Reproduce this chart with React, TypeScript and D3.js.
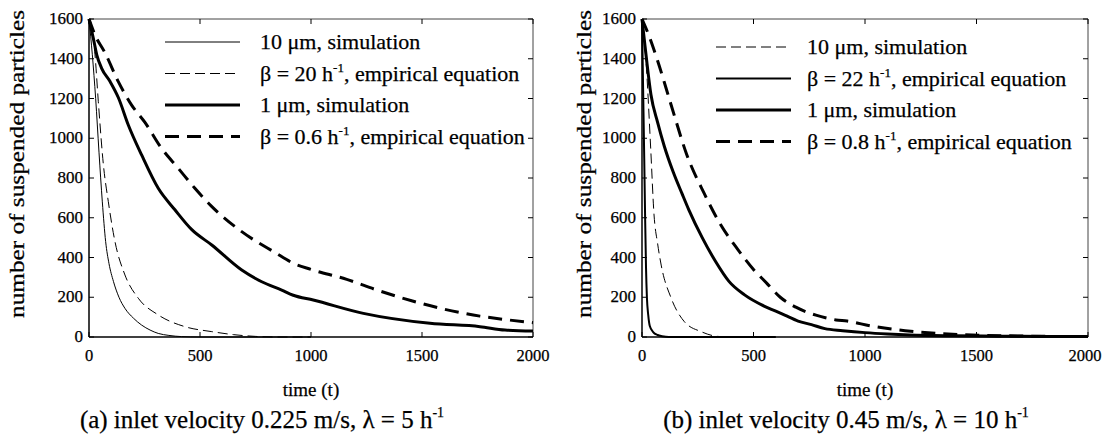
import React from "react";
import * as d3 from "d3";

// ---------- data ----------
const xTicks = [0, 500, 1000, 1500, 2000];
const yTicks = [0, 200, 400, 600, 800, 1000, 1200, 1400, 1600];

// Panel (a): inlet velocity 0.225 m/s
const a_sim10: [number, number][] = [
  [0, 1600], [15, 1420], [30, 1200], [45, 930], [60, 680], [75, 480], [90, 370],
  [110, 280], [135, 200], [162, 144], [200, 95], [237, 60], [275, 35], [312, 18],
  [360, 8], [417, 2], [500, 0], [1000, 0],
];
const a_beta20: [number, number][] = [
  [0, 1600], [27, 1420], [42, 1184], [65, 865], [87, 681], [117, 480], [162, 312],
  [222, 195], [312, 111], [432, 52], [553, 27], [650, 12], [750, 3], [850, 0], [1000, 0],
];
const a_sim1: [number, number][] = [
  [0, 1600], [20, 1500], [35, 1420], [57, 1352], [95, 1285], [132, 1205], [177, 1067],
  [237, 916], [312, 748], [387, 640], [463, 540], [553, 463], [688, 337], [778, 278],
  [868, 236], [920, 210], [1010, 186], [1236, 119], [1536, 69], [1761, 52], [1874, 35],
  [2000, 30],
];
const a_beta06: [number, number][] = [
  [0, 1600], [27, 1520], [72, 1430], [132, 1285], [192, 1167], [252, 1080], [327, 949],
  [402, 849], [477, 748], [550, 660], [688, 530], [838, 425], [920, 371], [1000, 340],
  [1161, 290], [1300, 235], [1461, 180], [1600, 140], [1761, 105], [1874, 88], [2000, 72],
];

// Panel (b): inlet velocity 0.45 m/s
const b_sim10: [number, number][] = [
  [0, 1600], [10, 1500], [19, 1369], [39, 949], [54, 614], [70, 470], [86, 362],
  [131, 195], [190, 77], [265, 27], [339, 3], [400, 0],
];
const b_beta22: [number, number][] = [
  [0, 1600], [5, 1250], [10, 900], [14, 600], [18, 350], [22, 200], [28, 110],
  [35, 55], [50, 25], [70, 10], [90, 4], [120, 0], [600, 0],
];
const b_sim1: [number, number][] = [
  [0, 1600], [10, 1500], [20, 1400], [40, 1220], [70, 1080], [100, 960], [140, 830],
  [180, 720], [210, 640], [270, 500], [330, 380], [390, 280], [460, 212], [545, 157],
  [600, 130], [640, 110], [700, 80], [760, 62], [820, 42], [900, 32], [1000, 22],
  [1100, 15], [1200, 10], [1400, 6], [1600, 4], [1800, 3], [2000, 2],
];
const b_beta08: [number, number][] = [
  [0, 1600], [30, 1520], [70, 1390], [130, 1170], [200, 920], [280, 720], [350, 570],
  [430, 440], [500, 340], [560, 270], [620, 200], [690, 150], [780, 110], [870, 86],
  [920, 80], [1030, 55], [1180, 32], [1330, 18], [1480, 10], [1700, 5], [2000, 2],
];

type Style = { w: number; dash?: string };
const thin: Style = { w: 1 };
const thinDash: Style = { w: 1, dash: "10,5" };
const medium: Style = { w: 2 };
const thick: Style = { w: 3 };
const thickDash: Style = { w: 3, dash: "14,8" };

type Leg = { pre: string; sup?: string; post?: string };

const panels = [
  {
    left: 89, right: 533, legLine: [165, 240], legText: 260, legY0: 42,
    yLabelX: 18, caption: ["(a) inlet velocity 0.225 m/s, λ = 5 h", "-1"], captionX: 262,
    series: [
      { data: a_sim10, style: thin, leg: { pre: "10 μm, simulation" } as Leg },
      { data: a_beta20, style: thinDash, leg: { pre: "β = 20 h", sup: "-1", post: ", empirical equation" } as Leg },
      { data: a_sim1, style: thick, leg: { pre: "1 μm, simulation" } as Leg },
      { data: a_beta06, style: thickDash, leg: { pre: "β = 0.6 h", sup: "-1", post: ", empirical equation" } as Leg },
    ],
  },
  {
    left: 642, right: 1088, legLine: [716, 791], legText: 807, legY0: 47,
    yLabelX: 585, caption: ["(b) inlet velocity 0.45 m/s, λ = 10 h", "-1"], captionX: 846,
    series: [
      { data: b_sim10, style: thinDash, leg: { pre: "10 μm, simulation" } as Leg },
      { data: b_beta22, style: medium, leg: { pre: "β = 22 h", sup: "-1", post: ", empirical equation" } as Leg },
      { data: b_sim1, style: thick, leg: { pre: "1 μm, simulation" } as Leg },
      { data: b_beta08, style: thickDash, leg: { pre: "β = 0.8 h", sup: "-1", post: ", empirical equation" } as Leg },
    ],
  },
];

const TOP = 19;
const BOTTOM = 337;
const FONT = "'Liberation Serif', 'Times New Roman', Times, serif";
const TXT = { fontFamily: FONT, fill: "#000", stroke: "#000", strokeWidth: 0.25 };

function Panel({ p }: { p: (typeof panels)[number] }) {
  const x = d3.scaleLinear().domain([0, 2000]).range([p.left, p.right]);
  const y = d3.scaleLinear().domain([0, 1600]).range([BOTTOM, TOP]);
  const line = d3
    .line<[number, number]>()
    .x((d) => x(d[0]))
    .y((d) => y(d[1]))
    .curve(d3.curveMonotoneX);
  const tl = 5;
  const cx = (p.left + p.right) / 2;
  return (
    <g>
      {/* frame */}
      <line x1={p.left} x2={p.right} y1={TOP} y2={TOP} stroke="#444" strokeWidth={1} />
      <line x1={p.right} x2={p.right} y1={TOP} y2={BOTTOM} stroke="#444" strokeWidth={1} />
      {/* ticks */}
      {xTicks.map((t) => (
        <g key={"x" + t}>
          <line x1={x(t)} x2={x(t)} y1={BOTTOM} y2={BOTTOM - tl} stroke="#000" />
          <line x1={x(t)} x2={x(t)} y1={TOP} y2={TOP + tl} stroke="#000" />
          <text x={Math.min(x(t), 1085)} y={BOTTOM + 24} textAnchor="middle" fontSize={16.5} {...TXT}>
            {t}
          </text>
        </g>
      ))}
      {yTicks.map((t) => (
        <g key={"y" + t}>
          <line x1={p.left} x2={p.left + tl} y1={y(t)} y2={y(t)} stroke="#000" />
          <line x1={p.right} x2={p.right - tl} y1={y(t)} y2={y(t)} stroke="#000" />
          <text x={p.left - 6} y={y(t) + 5} textAnchor="end" fontSize={17} {...TXT}>
            {t}
          </text>
        </g>
      ))}
      {/* curves */}
      {p.series.map((s, i) => (
        <path
          key={"s" + i}
          d={line(s.data) || ""}
          fill="none"
          stroke="#000"
          strokeWidth={s.style.w}
          strokeDasharray={s.style.dash}
          strokeLinejoin="round"
        />
      ))}
      {/* axes */}
      <line x1={p.left} x2={p.left} y1={TOP} y2={BOTTOM} stroke="#000" strokeWidth={1.5} />
      <line x1={p.left} x2={p.right} y1={BOTTOM} y2={BOTTOM} stroke="#000" strokeWidth={1.5} />
      {/* legend */}
      {p.series.map((s, i) => {
        const ly = p.legY0 + i * 31.5;
        return (
          <g key={"l" + i}>
            <line
              x1={p.legLine[0]}
              x2={p.legLine[1]}
              y1={ly}
              y2={ly}
              stroke="#000"
              strokeWidth={s.style.w}
              strokeDasharray={s.style.dash}
            />
            <text x={p.legText} y={ly + 7} fontSize={22} {...TXT}>
              {s.leg.pre}
              {s.leg.sup && (
                <tspan fontSize={13} dy={-9}>
                  {s.leg.sup}
                </tspan>
              )}
              {s.leg.post && <tspan dy={9}>{s.leg.post}</tspan>}
            </text>
          </g>
        );
      })}
      {/* axis labels */}
      <text
        transform={`translate(${p.yLabelX + 6},${(TOP + BOTTOM) / 2 - 14}) rotate(-90)`}
        textAnchor="middle"
        fontSize={20}
        {...TXT}
        textLength={308}
        lengthAdjust="spacingAndGlyphs"
      >
        number of suspended particles
      </text>
      <text x={cx} y={396} textAnchor="middle" fontSize={19} {...TXT}>
        time (t)
      </text>
      <text x={p.captionX} y={428} textAnchor="middle" fontSize={25} {...TXT}>
        {p.caption[0]}
        <tspan fontSize={14} dy={-11}>
          {p.caption[1]}
        </tspan>
      </text>
    </g>
  );
}

export default function App() {
  return (
    <svg
      width={1105}
      height={443}
      viewBox="0 0 1105 443"
      style={{ position: "absolute", left: 0, top: 0, background: "#fff" }}
    >
      <rect width={1105} height={443} fill="#fff" />
      {panels.map((p, i) => (
        <Panel key={i} p={p} />
      ))}
    </svg>
  );
}
